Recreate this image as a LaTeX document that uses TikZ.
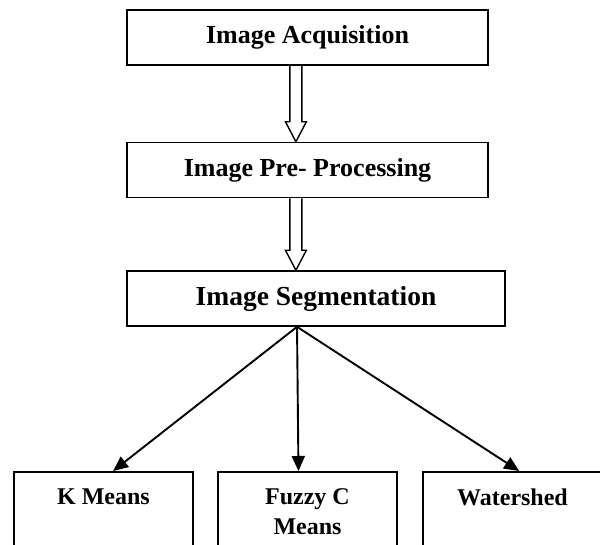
\documentclass[tikz,border=0pt]{standalone}
\usepackage{fontspec}
\setmainfont{Liberation Serif}
\usetikzlibrary{calc,arrows.meta}
\newcommand\hollowarr[2]{%
  \draw[hollow] ($(#1)+(-6,0)$) -- ($(#2)+(-6,-20)$) -- ($(#2)+(-10.5,-20)$) -- (#2)
    -- ($(#2)+(10.5,-20)$) -- ($(#2)+(6,-20)$) -- ($(#1)+(6,0)$);}
\begin{document}
\begin{tikzpicture}[x=1pt,y=-1pt,
  box/.style={draw,line width=1.6pt,inner sep=0pt,font=\bfseries},
  topbox/.style={box,minimum width=361pt,minimum height=55pt,font=\bfseries\fontsize{26}{30}\selectfont},
  lowbox/.style={box,inner xsep=0pt,inner ysep=17pt,anchor=north,font=\bfseries\fontsize{24}{30}\selectfont},
  hollow/.style={draw,line width=1.4pt,line join=miter},
  conn/.style={line width=1.9pt,-{Triangle[length=15pt,width=13pt]}}]
\useasboundingbox (0,0) rectangle (600,544);
\fill[white] (0,0) rectangle (600,544);
\node[topbox] (A) at (307.5,37.5) {Image Acquisition};
\node[topbox] (B) at (307.5,170) {Image Pre- Processing};
\node[box,minimum width=378pt,minimum height=55pt,font=\bfseries\fontsize{27.5}{32}\selectfont] (C) at (316,298.5) {Image Segmentation};
\node[lowbox] (K) at (103.5,471) {\begin{minipage}[t][100pt][t]{179pt}\centering K Means\end{minipage}};
\node[lowbox] (F) at (307.5,471) {\begin{minipage}[t][100pt][t]{179pt}\centering Fuzzy C\\ Means\end{minipage}};
\node[lowbox] (W) at (512.5,471) {\begin{minipage}[t][100pt][t]{179pt}\centering Watershed\end{minipage}};
\coordinate (a1) at ($(A.south west)!0.468!(A.south east)$);
\coordinate (b1) at (a1 |- B.north);
\coordinate (b2) at (a1 |- B.south);
\coordinate (c1) at (a1 |- C.north);
\coordinate (c2) at ($(C.south west)!0.45!(C.south east)$);
\hollowarr{a1}{b1}
\hollowarr{b2}{c1}
\draw[conn] (c2) -- ($(K.north west)!0.553!(K.north east)$);
\draw[conn] (c2) -- ($(F.north west)!0.45!(F.north east)$);
\draw[conn] (c2) -- ($(W.north west)!0.537!(W.north east)$);
\end{tikzpicture}
\end{document}
